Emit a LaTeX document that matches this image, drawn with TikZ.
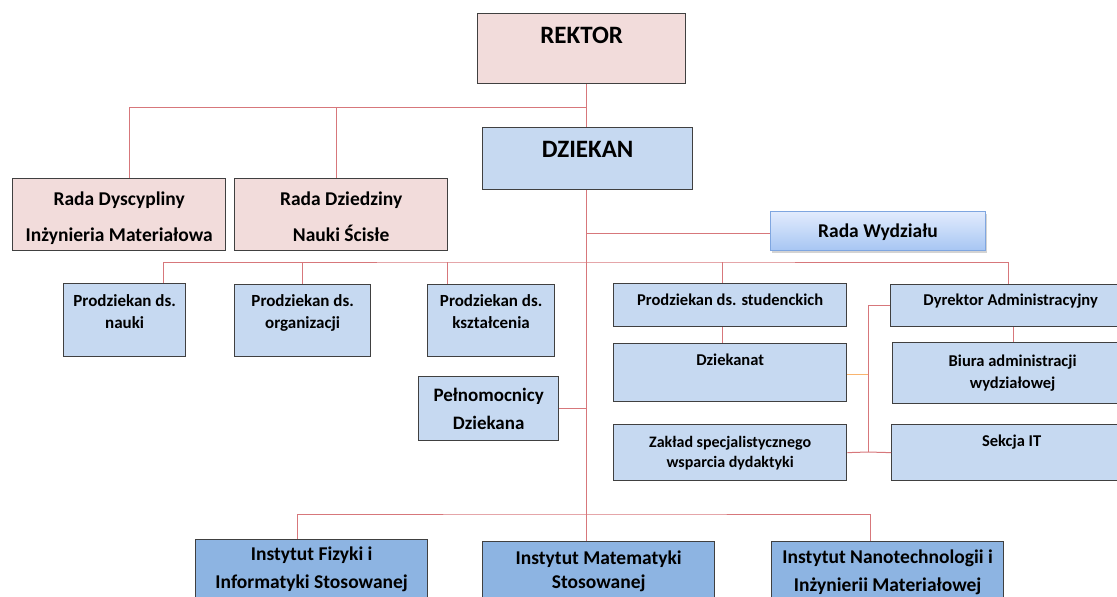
\documentclass[tikz,border=0pt]{standalone}
\usepackage{fontspec}
\setmainfont{Carlito}
\usetikzlibrary{shadows}

\definecolor{pinkfill}{HTML}{F2DCDB}
\definecolor{bluefill}{HTML}{C6D9F1}
\definecolor{instfill}{HTML}{8DB4E2}
\definecolor{boxline}{HTML}{404040}
\definecolor{linkred}{HTML}{D7777B}
\definecolor{linkorange}{HTML}{F9B46E}
\definecolor{radatop}{HTML}{E2ECFD}
\definecolor{radabottom}{HTML}{A7C5F3}
\definecolor{radaline}{HTML}{7FA6E0}

\tikzset{
  box/.style={draw=boxline, line width=1.3pt, anchor=north west, align=center, inner sep=2pt},
  pinkbox/.style={box, fill=pinkfill},
  bluebox/.style={box, fill=bluefill},
  instbox/.style={box, fill=instfill},
  radabox/.style={draw=radaline, line width=1pt, top color=radatop, bottom color=radabottom,
    drop shadow={opacity=0.35, shadow xshift=1.5pt, shadow yshift=-2pt},
    anchor=north west, align=center, inner sep=2pt},
  bigtext/.style={font=\bfseries\fontsize{25}{29}\selectfont},
  midtext/.style={font=\bfseries\fontsize{19.5}{36}\selectfont},
  smalltext/.style={font=\bfseries\fontsize{16.5}{22}\selectfont},
  prodtext/.style={font=\bfseries\fontsize{17}{22}\selectfont, text height=34pt, text depth=18pt},
  insttext/.style={font=\bfseries\fontsize{19.5}{28}\selectfont},
  link/.style={draw=linkred, line width=1pt},
  orangelink/.style={draw=linkorange, line width=1.2pt}
}

\begin{document}
\begin{tikzpicture}[x=1pt, y=-1pt]
      \useasboundingbox (0,0) rectangle (1117,597);
      \clip (0,0) rectangle (1117,597);

      \node[pinkbox, bigtext, minimum width=208, minimum height=70, text height=16pt, text depth=26pt] (rektor) at (477,13) {REKTOR};
      \node[bluebox, bigtext, minimum width=210, minimum height=62, text height=16pt, text depth=18pt] (dziekan) at (482,127) {DZIEKAN};
      \node[pinkbox, midtext, minimum width=213, minimum height=72, text height=56pt, text depth=2pt] (dyscyp) at (12,178) {Rada Dyscypliny\\Inżynieria Materiałowa};
      \node[pinkbox, midtext, minimum width=213, minimum height=72, text height=56pt, text depth=2pt] (dziedz) at (234,178) {Rada Dziedziny\\Nauki Ścisłe};
      \node[radabox, midtext, minimum width=215, minimum height=39, text height=12pt, text depth=0pt] (rada) at (770,211) {Rada Wydziału};

      \node[bluebox, prodtext, minimum width=122, minimum height=73] (nauki) at (63,283) {Prodziekan ds.\\nauki};
      \node[bluebox, prodtext, minimum width=136, minimum height=72] (organ) at (234,284) {Prodziekan ds.\\organizacji};
      \node[bluebox, prodtext, minimum width=127, minimum height=72] (kszt) at (427,284) {Prodziekan ds.\\kształcenia};
      \node[bluebox, font=\bfseries\fontsize{19}{28}\selectfont, minimum width=140, minimum height=64] (peln) at (418,376) {Pełnomocnicy\\Dziekana};

      \node[bluebox, smalltext, minimum width=233, minimum height=43, text height=11pt, text depth=11pt] (stud) at (613,283) {Prodziekan ds. studenckich};
      \node[bluebox, smalltext, minimum width=233, minimum height=58, text height=10.5pt, text depth=24.5pt] (dziekanat) at (613,343) {Dziekanat};
      \node[bluebox, font=\bfseries\fontsize{16}{20}\selectfont, minimum width=233, minimum height=56] (zaklad) at (613,424) {Zakład specjalistycznego\\wsparcia dydaktyki};
      \node[bluebox, smalltext, minimum width=240, minimum height=42, text height=11pt, text depth=11pt] (dyrektor) at (890,284) {Dyrektor Administracyjny};
      \node[bluebox, smalltext, minimum width=240, minimum height=61] (biura) at (892,342) {Biura administracji\\wydziałowej};
      \node[bluebox, smalltext, minimum width=240, minimum height=56, text height=10.5pt, text depth=22.5pt] (sekcja) at (891,424) {Sekcja IT};

      \node[instbox, insttext, minimum width=232, minimum height=60] (fizyki) at (195,539) {Instytut Fizyki i\\Informatyki Stosowanej};
      \node[instbox, font=\bfseries\fontsize{19.5}{24}\selectfont, minimum width=232, minimum height=60] (mat) at (482,541) {Instytut Matematyki\\Stosowanej};
      \node[instbox, insttext, minimum width=232, minimum height=62] (nano) at (771,541) {Instytut Nanotechnologii i\\Inżynierii Materiałowej};

      \coordinate (spine) at (586,0);
      \coordinate (r1) at (586,107);
      \coordinate (r2) at (586,262);
      \coordinate (r3) at (586,514);
      \coordinate (j1) at (868,452);

      \draw[link] (rektor.south -| spine) -- (dziekan.north -| spine);
      \draw[link] ([xshift=10.5]dyscyp.north) |- (r1);
      \draw[link] ([xshift=-4.5]dziedz.north) -- ([xshift=-4.5]dziedz.north |- r1);
      \draw[link] (dziekan.south -| spine) -- (r3);
      \draw[link] ([yshift=-2.5]rada.west) -- ([yshift=-2.5]rada.west -| spine);

      \draw[link] ([xshift=39]nauki.north) |- (r2) -| ([xshift=-2]dyrektor.north);
      \draw[link] (organ.north) -- (organ.north |- r2);
      \draw[link] ([xshift=-43.5]kszt.north) -- ([xshift=-43.5]kszt.north |- r2);
      \draw[link] ([xshift=-7.5]stud.north) -- ([xshift=-7.5]stud.north |- r2);
      \draw[link] ([xshift=-7.5]stud.south) -- ([xshift=-7.5]dziekanat.north);
      \draw[link] ([xshift=3]dyrektor.south) -- ([xshift=3]dyrektor.south |- biura.north);
      \draw[link] (peln.east) -- (peln.east -| spine);

      \draw[link] (dyrektor.west) -| (j1);
      \draw[link] (zaklad.east) -- (j1) -- (sekcja.west);
      \draw[orangelink] ([yshift=-2]dziekanat.east) -- ([yshift=-2]dziekanat.east -| j1);

      \draw[link] ([xshift=-14]fizyki.north) |- (r3) -| ([xshift=-17]nano.north);
      \draw[link] (r3) -- (mat.north -| r3);
\end{tikzpicture}
\end{document}
